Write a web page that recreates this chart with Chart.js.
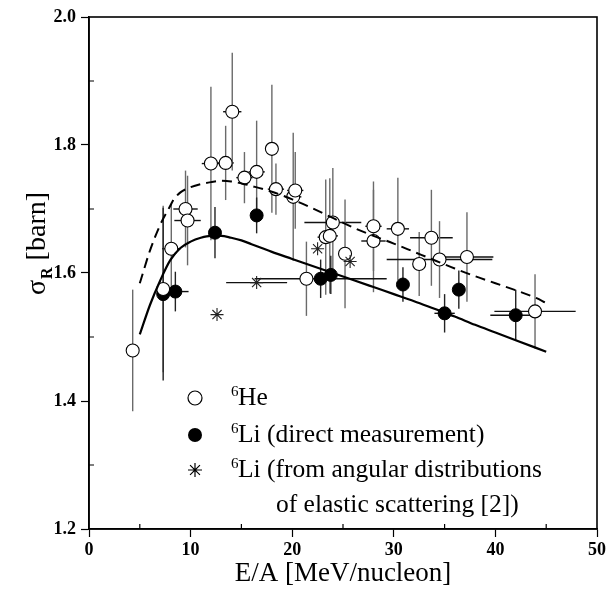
<!DOCTYPE html>
<html>
<head>
<meta charset="utf-8">
<script src="https://cdn.jsdelivr.net/npm/chart.js@4.4.1/dist/chart.umd.min.js"></script>
<style>
  html, body { margin: 0; padding: 0; background: #fff; }
  #wrap { width: 607px; height: 590px; }
</style>
</head>
<body>
<div id="wrap"><canvas id="sigmaChart" width="607" height="590"></canvas></div>
<script>
// 6He data: energy, cross section, vertical and horizontal errors
const heE     = [4.3, 7.3, 8.1, 9.5, 9.7, 12.0, 13.45, 14.1, 15.3, 16.5, 18.0, 18.4, 20.1, 20.3, 21.4, 23.3, 23.7, 24.0, 25.2, 28.0, 28.0, 30.4, 32.5, 33.7, 34.5, 37.2, 43.9];
const heSigma = [1.479, 1.575, 1.638, 1.700, 1.682, 1.771, 1.772, 1.852, 1.749, 1.758, 1.794, 1.731, 1.719, 1.729, 1.591, 1.656, 1.658, 1.679, 1.630, 1.673, 1.650, 1.669, 1.614, 1.655, 1.621, 1.625, 1.540];
const heErrY  = [0.095, 0.13, 0.07, 0.06, 0.07, 0.12, 0.058, 0.092, 0.04, 0.08, 0.10, 0.04, 0.10, 0.06, 0.058, 0.09, 0.09, 0.085, 0.085, 0.07, 0.08, 0.08, 0.05, 0.075, 0.06, 0.07, 0.058];
const heErrX  = [0, 0, 0.9, 1.2, 1.3, 0.9, 0.8, 0.9, 0.8, 0.8, 0, 0.8, 0.8, 0.8, 0, 0.8, 0.8, 2.8, 0, 0.8, 1.2, 1.1, 0, 2.1, 5.2, 2.6, 4.0];

// 6Li direct measurement
const liE     = [7.3, 8.5, 12.4, 16.5, 22.8, 23.8, 30.9, 35.0, 36.4, 42.0];
const liSigma = [1.567, 1.571, 1.663, 1.690, 1.591, 1.597, 1.582, 1.537, 1.574, 1.534];
const liErrY  = [0.135, 0.031, 0.04, 0.028, 0.03, 0.03, 0.027, 0.03, 0.03, 0.04];
const liErrX  = [0, 1.3, 0, 0, 6.5, 0, 0, 1.0, 0, 2.5];

// 6Li from angular distributions
const angE     = [12.6, 16.5, 22.5, 25.7];
const angSigma = [1.535, 1.585, 1.638, 1.618];
const angErrX  = [0, 3.0, 0, 0];

// calculated curves
const solidE     = [5, 6, 7, 8, 9, 10, 11, 12, 13, 14, 15, 16, 17, 18, 20, 22, 24, 26, 28, 30, 32, 34, 36, 38, 40, 42, 44, 45];
const solidSigma = [1.504, 1.550, 1.588, 1.620, 1.639, 1.649, 1.655, 1.658, 1.658, 1.655, 1.651, 1.645, 1.639, 1.633, 1.622, 1.611, 1.600, 1.589, 1.578, 1.567, 1.556, 1.544, 1.532, 1.519, 1.507, 1.495, 1.483, 1.477];
const dashE      = [5, 6, 7, 8, 8.3, 9, 10, 11, 12, 13, 14, 15, 16, 18, 20, 22, 24, 26, 28, 30, 32, 34, 36, 38, 40, 42, 44, 45];
const dashSigma  = [1.584, 1.635, 1.675, 1.705, 1.714, 1.726, 1.734, 1.739, 1.742, 1.744, 1.743, 1.740, 1.736, 1.727, 1.715, 1.701, 1.686, 1.671, 1.658, 1.646, 1.633, 1.620, 1.607, 1.595, 1.584, 1.573, 1.561, 1.553];

const xTicks = [0, 10, 20, 30, 40, 50];
const yTicks = [1.2, 1.4, 1.6, 1.8, 2.0];

const pts = (xs, ys) => xs.map((v, i) => ({ x: v, y: ys[i] }));
const SERIF = '"Liberation Serif", "DejaVu Serif", serif';

const errorBars = {
  id: 'errorBars',
  beforeDatasetsDraw(chart) {
    const { ctx, chartArea: a, scales: { x, y } } = chart;
    ctx.save();
    ctx.beginPath();
    ctx.rect(a.left, a.top, a.right - a.left, a.bottom - a.top);
    ctx.clip();
    ctx.lineWidth = 1.4;
    chart.data.datasets.forEach(ds => {
      if (!ds.errY && !ds.errX) return;
      ds.data.forEach((p, i) => {
        const px = x.getPixelForValue(p.x), py = y.getPixelForValue(p.y);
        const dy = ds.errY ? ds.errY[i] : 0;
        const dx = ds.errX ? ds.errX[i] : 0;
        if (dy) {
          ctx.strokeStyle = ds.errColorY;
          ctx.beginPath();
          ctx.moveTo(px, y.getPixelForValue(p.y + dy));
          ctx.lineTo(px, y.getPixelForValue(p.y - dy));
          ctx.stroke();
        }
        if (dx) {
          ctx.strokeStyle = '#111';
          ctx.beginPath();
          ctx.moveTo(x.getPixelForValue(p.x - dx), py);
          ctx.lineTo(x.getPixelForValue(p.x + dx), py);
          ctx.stroke();
        }
      });
    });
    ctx.restore();
  }
};

function drawStar(ctx, cx, cy, r) {
  ctx.beginPath();
  for (let k = 0; k < 4; k++) {
    const t = k * Math.PI / 4;
    ctx.moveTo(cx - r * Math.cos(t), cy - r * Math.sin(t));
    ctx.lineTo(cx + r * Math.cos(t), cy + r * Math.sin(t));
  }
  ctx.stroke();
}

const frameAndText = {
  id: 'frameAndText',
  afterDraw(chart) {
    const { ctx, chartArea: a, scales: { x, y } } = chart;
    ctx.save();
    // frame
    ctx.strokeStyle = '#000';
    ctx.lineWidth = 1.6;
    ctx.strokeRect(a.left, a.top, a.right - a.left, a.bottom - a.top);
    // minor ticks pointing inwards
    ctx.lineWidth = 1.2;
    ctx.beginPath();
    for (let v = 5; v < 50; v += 10) {
      const px = x.getPixelForValue(v);
      ctx.moveTo(px, a.bottom); ctx.lineTo(px, a.bottom - 5);
    }
    [1.3, 1.5, 1.7, 1.9].forEach(v => {
      const py = y.getPixelForValue(v);
      ctx.moveTo(a.left, py); ctx.lineTo(a.left + 5, py);
    });
    ctx.stroke();

    // y title with subscript
    ctx.fillStyle = '#000';
    ctx.translate(37, 244);
    ctx.rotate(-Math.PI / 2);
    ctx.textBaseline = 'alphabetic';
    const big = '28px ' + SERIF, small = 'bold 16px ' + SERIF;
    ctx.font = big; const w1 = ctx.measureText('σ').width;
    ctx.font = small; const w2 = ctx.measureText('R').width;
    ctx.font = big; const w3 = ctx.measureText(' [barn]').width;
    let sx = -(w1 + w2 + w3) / 2;
    ctx.font = big; ctx.fillText('σ', sx, 8); sx += w1;
    ctx.font = small; ctx.fillText('R', sx + 1, 15); sx += w2 + 1;
    ctx.font = big; ctx.fillText(' [barn]', sx, 8);
    ctx.restore();

    // legend
    ctx.save();
    ctx.strokeStyle = '#000';
    ctx.fillStyle = '#000';
    ctx.lineWidth = 1.2;
    ctx.beginPath(); ctx.arc(195, 398, 7, 0, Math.PI * 2);
    ctx.fillStyle = '#fff'; ctx.fill(); ctx.stroke();
    ctx.fillStyle = '#000';
    ctx.beginPath(); ctx.arc(195, 435, 7, 0, Math.PI * 2); ctx.fill();
    drawStar(ctx, 195, 470, 7);
    const rows = [
      { sup: '6', text: 'He', base: 405 },
      { sup: '6', text: 'Li (direct measurement)', base: 442 },
      { sup: '6', text: 'Li (from angular distributions', base: 477 }
    ];
    rows.forEach(r => {
      ctx.font = '15px ' + SERIF;
      ctx.fillText(r.sup, 231, r.base - 9);
      ctx.font = '25.5px ' + SERIF;
      ctx.fillText(r.text, 238, r.base);
    });
    ctx.font = '25.5px ' + SERIF;
    ctx.fillText('of elastic scattering [2])', 276, 512);
    ctx.restore();
  }
};

new Chart(document.getElementById('sigmaChart'), {
  type: 'scatter',
  data: {
    datasets: [
      {
        label: 'solid',
        type: 'line',
        data: pts(solidE, solidSigma),
        borderColor: '#000',
        borderWidth: 2.2,
        pointRadius: 0,
        cubicInterpolationMode: 'monotone',
        fill: false
      },
      {
        label: 'dashed',
        type: 'line',
        data: pts(dashE, dashSigma),
        borderColor: '#000',
        borderWidth: 2,
        borderDash: [10, 6],
        pointRadius: 0,
        cubicInterpolationMode: 'monotone',
        fill: false
      },
      {
        label: '6Li angular',
        data: pts(angE, angSigma),
        errX: angErrX,
        errColorY: '#111',
        pointStyle: 'star',
        pointRadius: 6.5,
        borderColor: '#222',
        borderWidth: 1.1,
        backgroundColor: '#222'
      },
      {
        label: '6He',
        data: pts(heE, heSigma),
        errY: heErrY,
        errX: heErrX,
        errColorY: '#6a6a6a',
        pointStyle: 'circle',
        pointRadius: 6.5,
        borderColor: '#000',
        borderWidth: 1.1,
        backgroundColor: '#fff'
      },
      {
        label: '6Li direct',
        data: pts(liE, liSigma),
        errY: liErrY,
        errX: liErrX,
        errColorY: '#222',
        pointStyle: 'circle',
        pointRadius: 6.5,
        borderColor: '#000',
        borderWidth: 1,
        backgroundColor: '#000'
      }
    ]
  },
  options: {
    responsive: false,
    animation: false,
    layout: { padding: { top: 17, right: 10, left: 0, bottom: 0 } },
    plugins: { legend: { display: false }, tooltip: { enabled: false } },
    scales: {
      x: {
        type: 'linear',
        min: 0, max: 50,
        afterFit: s => { s.height = 61; s.paddingLeft = 0; s.paddingRight = 0; },
        afterBuildTicks: s => { s.ticks = xTicks.map(v => ({ value: v })); },
        border: { display: true, color: '#000', width: 1.6 },
        grid: { drawOnChartArea: false, drawTicks: true, tickLength: 8, color: '#000', tickWidth: 1.2 },
        ticks: { color: '#000', padding: 3, font: { family: SERIF, size: 18, weight: 'bold' }, maxRotation: 0 },
        title: { display: true, text: 'E/A [MeV/nucleon]', color: '#000', padding: { top: 0, bottom: 0 }, font: { family: SERIF, size: 27 } }
      },
      y: {
        type: 'linear',
        min: 1.2, max: 2.0,
        afterFit: s => { s.width = 89; s.paddingTop = 0; s.paddingBottom = 0; },
        afterBuildTicks: s => { s.ticks = yTicks.map(v => ({ value: v })); },
        border: { display: true, color: '#000', width: 1.6 },
        grid: { drawOnChartArea: false, drawTicks: true, tickLength: 8, color: '#000', tickWidth: 1.2 },
        ticks: { color: '#000', padding: 5, font: { family: SERIF, size: 18, weight: 'bold' }, callback: v => v.toFixed(1) }
      }
    }
  },
  plugins: [errorBars, frameAndText]
});
</script>
</body>
</html>
